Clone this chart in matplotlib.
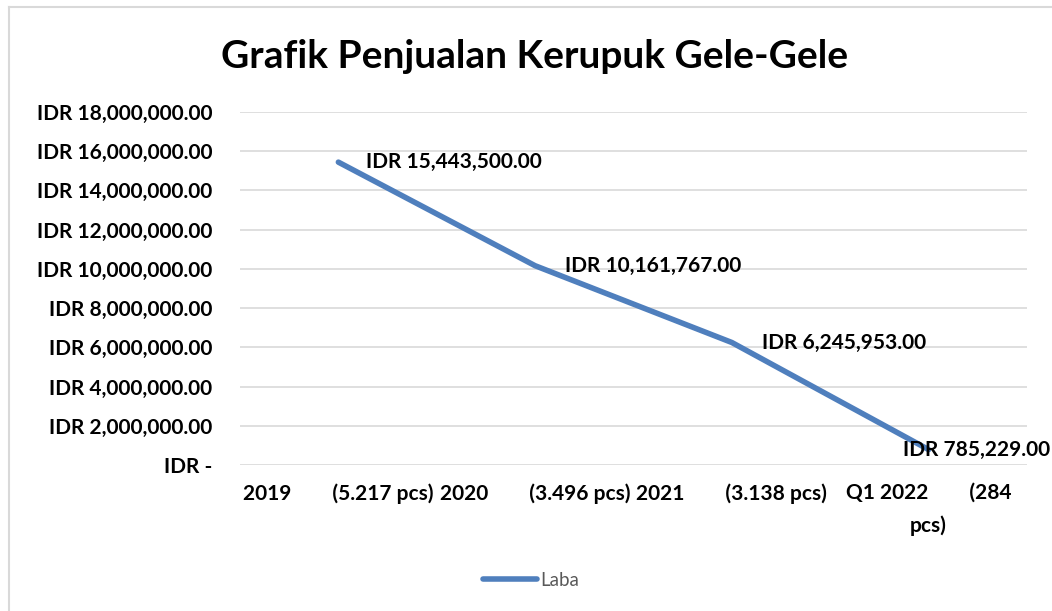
import matplotlib
matplotlib.use("Agg")
import matplotlib.pyplot as plt
from matplotlib.lines import Line2D
from matplotlib.ticker import FuncFormatter

categories = ["2019        (5.217 pcs)", "2020        (3.496 pcs)", "2021        (3.138 pcs)", "Q1 2022        (284\npcs)"]
laba = [15443500, 10161767, 6245953, 785229]
label_offsets = [(28, 0), (30, 0), (30, 0), (-26, 0)]
yticks = list(range(0, 18000001, 2000000))

plt.rcParams['font.family'] = ['Lato', 'DejaVu Sans']

W, H = 1052, 611
fig = plt.figure(figsize=(W / 100, H / 100), dpi=100)
ax = fig.add_axes([240 / W, 1 - 465 / H, (1027 - 240) / W, (465 - 112) / H])

x = list(range(len(categories)))
ax.plot(x, laba, color="#4f7fbd", lw=4.0, solid_joinstyle="round", solid_capstyle="round", label="Laba", zorder=3)

for xi, v, off in zip(x, laba, label_offsets):
    ax.annotate(f"IDR {v:,.2f}", (xi, v), xytext=off, textcoords="offset pixels",
                ha="left", va="center", fontsize=15, fontweight="bold", color="black", zorder=4)

ax.set_xlim(-0.5, len(categories) - 0.5)
ax.set_ylim(0, 18000000)
ax.set_yticks(yticks)
ax.yaxis.set_major_formatter(FuncFormatter(lambda v, p: "IDR -" if v == 0 else f"IDR {v:,.2f}"))
ax.set_xticks(x)
ax.set_xticklabels(categories, fontsize=15, fontweight="bold", linespacing=1.75, va="top")
for lab in ax.get_yticklabels():
    lab.set_fontweight("bold")
    lab.set_fontsize(15)
ax.tick_params(axis="y", length=0, pad=20)
ax.tick_params(axis="x", length=0, pad=13)
ax.grid(axis="y", color="#d9d9d9", lw=1.2)
ax.set_axisbelow(True)
for s in ax.spines.values():
    s.set_visible(False)

fig.text(535 / W, 1 - 57 / H, "Grafik Penjualan Kerupuk Gele-Gele", ha="center", va="center",
         fontsize=28, fontweight="bold", color="black")

handle = Line2D([0], [0], color="#4f7fbd", lw=4.0, solid_capstyle="round")
fig.legend([handle], ["Laba"], loc="center", bbox_to_anchor=(531 / W, 1 - 580 / H), frameon=False,
           fontsize=13.5, labelcolor="#595959", handlelength=2.9, handletextpad=0.2)

# chart area border (top and left visible)
fig.add_artist(Line2D([8.5 / W, 8.5 / W], [0, 1 - 6.5 / H], color="#d9d9d9", lw=1.5, transform=fig.transFigure))
fig.add_artist(Line2D([8.5 / W, 1], [1 - 6.5 / H, 1 - 6.5 / H], color="#d9d9d9", lw=1.5, transform=fig.transFigure))

fig.savefig("out.png", dpi=100)
